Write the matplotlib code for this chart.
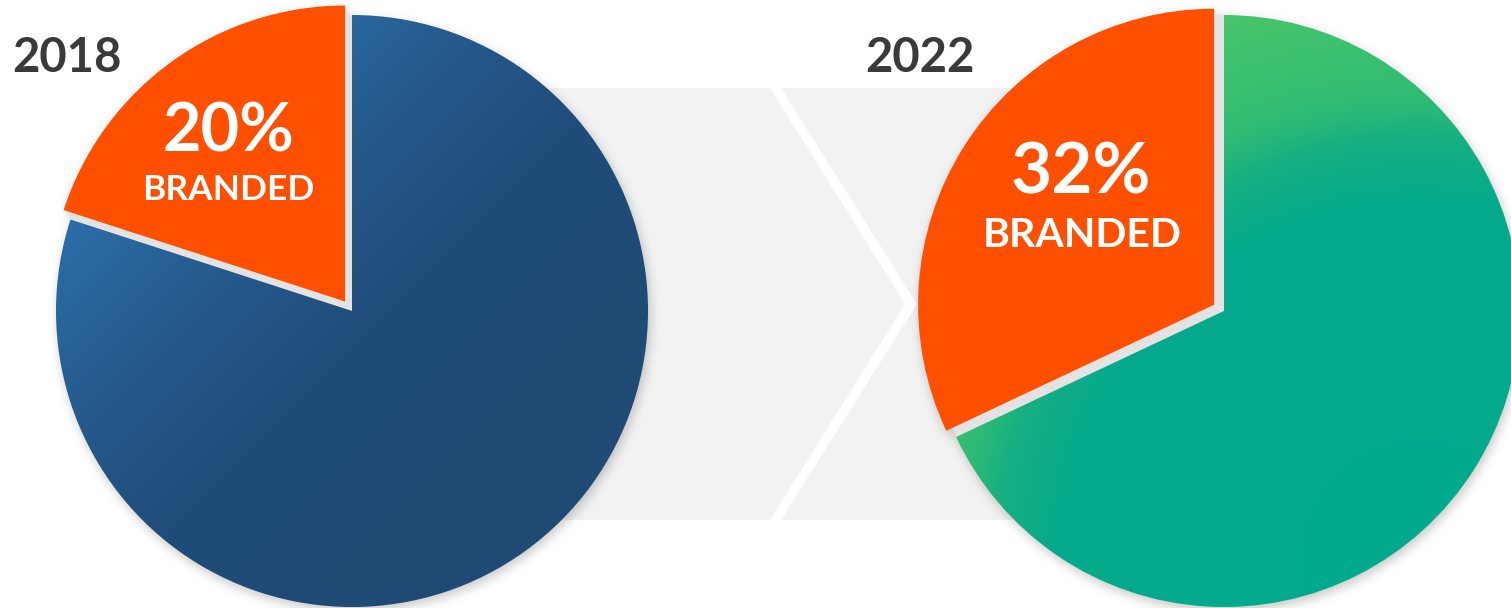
import numpy as np
import matplotlib
matplotlib.use('Agg')
import matplotlib.pyplot as plt
from matplotlib.patches import Polygon
from matplotlib.colors import to_rgb

# ---------------- data ----------------
years = ['2018', '2022']
branded_pct = [20, 32]
other_pct = [80, 68]
segment_label = 'BRANDED'

# ---------------- layout / style ----------------
W, H = 1511, 608
R = 296
centers_px = [(352, 311), (1224, 311)]
explode_px = 11.7
orange = '#FE5000'
gap_gray = '#E3E3E3'
chev_gray = '#F2F2F2'
year_color = '#3A3A3A'
FONT = 'Lato'

# blue: linear gradient on (x + y); green: radial gradient from lower right
blue_stops = [(300, '#2C6CA8'), (500, '#255A8B'), (700, '#204C79'), (1000, '#1E4A73')]
green_stops = [(0, '#02AA8E'), (360, '#05AA8B'), (420, '#16AF82'),
               (465, '#31BC74'), (590, '#4AC769'), (900, '#4AC769')]
grad_stops = [blue_stops, green_stops]
green_focus = (1420, 560)

year_pos = [(67.5, 72), (919.5, 72)]
pct_pos = [(228, 152), (1081, 193)]
lab_pos = [(228.5, 200), (1082, 247)]
year_size = 34
pct_size = [48, 51]
lab_size = [25.5, 29.5]


def Y(ypx):
    return H - ypx


fig = plt.figure(figsize=(W / 100, H / 100), dpi=100)
ax = fig.add_axes([0, 0, 1, 1])

# background chevrons
top, bot, mid = 88, 520, 304
poly1 = [(430, top), (770, top), (905, mid), (770, bot), (430, bot)]
poly2 = [(781, top), (1400, top), (1400, bot), (781, bot), (917, mid)]
for p in (poly1, poly2):
    ax.add_patch(Polygon([(x, Y(y)) for x, y in p], closed=True,
                         facecolor=chev_gray, edgecolor='none', zorder=0.5))

# soft drop shadow (decoration), computed on a padded canvas
PAD = 40
xs = np.arange(-PAD, W + PAD) + 0.5
ys = np.arange(-PAD, H + PAD) + 0.5
sdx, sdy = 2, 4
XX, YY = np.meshgrid(xs - sdx, ys - sdy)
mask = np.zeros(XX.shape)
for (cx, cy), b in zip(centers_px, branded_pct):
    mask = np.maximum(mask, ((XX - cx) ** 2 + (YY - cy) ** 2 <= R ** 2).astype(float))
    th = np.deg2rad(90 + 180 * b / 100)
    ox, oy = cx + explode_px * np.cos(th), cy - explode_px * np.sin(th)
    ang = np.degrees(np.arctan2(-(YY - oy), XX - ox)) % 360
    inw = ((XX - ox) ** 2 + (YY - oy) ** 2 <= R ** 2) & (ang >= 90) & (ang <= 90 + 360 * b / 100)
    mask = np.maximum(mask, inw.astype(float))


def blur(a, sigma):
    r = int(3 * sigma)
    k = np.exp(-0.5 * (np.arange(-r, r + 1) / sigma) ** 2)
    k /= k.sum()
    p = np.pad(a, ((0, 0), (r, r)), mode='edge')
    out = sum(k[i] * p[:, i:i + a.shape[1]] for i in range(2 * r + 1))
    p = np.pad(out, ((r, r), (0, 0)), mode='edge')
    out = sum(k[i] * p[i:i + a.shape[0], :] for i in range(2 * r + 1))
    return out


sh = blur(mask, 5.5)[PAD:PAD + H, PAD:PAD + W]
rgba = np.zeros((H, W, 4))
rgba[..., 3] = 0.22 * sh
ax.imshow(rgba, extent=(0, W, 0, H), origin='upper', zorder=1, interpolation='bilinear')

# pies
for i, ((cx, cy), b, o) in enumerate(zip(centers_px, branded_pct, other_pct)):
    c = (cx, Y(cy))
    # gap (shadow of branded slice)
    ax.pie([b, o], center=c, radius=R, startangle=90, counterclock=True,
           colors=[gap_gray, 'none'], wedgeprops=dict(linewidth=0, zorder=2))
    # main pie
    wedges, _ = ax.pie([b, o], center=c, radius=R, startangle=90, counterclock=True,
                       explode=[explode_px, 0], colors=[orange, 'none'],
                       wedgeprops=dict(linewidth=0, zorder=3))
    # gradient for the non-branded slice
    x0, x1 = cx - R, cx + R
    y0, y1 = cy - R, cy + R
    gx = np.arange(x0, x1) + 0.5
    gy = np.arange(y0, y1) + 0.5
    GX, GY = np.meshgrid(gx, gy)
    if i == 0:
        s = GX + GY
    else:
        s = np.hypot(GX - green_focus[0], GY - green_focus[1])
    stops = grad_stops[i]
    sv = [st[0] for st in stops]
    cols = np.array([to_rgb(st[1]) for st in stops])
    img = np.stack([np.interp(s, sv, cols[:, k]) for k in range(3)], axis=-1)
    im = ax.imshow(img, extent=(x0, x1, Y(y1), Y(y0)), origin='upper',
                   zorder=2.5, interpolation='bilinear')
    im.set_clip_path(wedges[1])

# texts
for i in range(2):
    ax.text(year_pos[i][0], Y(year_pos[i][1]), years[i], ha='center', va='baseline',
            fontsize=year_size, fontweight='bold', color=year_color, family=FONT, zorder=5)
    ax.text(pct_pos[i][0], Y(pct_pos[i][1]), f'{branded_pct[i]}%', ha='center', va='baseline',
            fontsize=pct_size[i], fontweight='bold', color='white', family=FONT, zorder=5)
    ax.text(lab_pos[i][0], Y(lab_pos[i][1]), segment_label, ha='center', va='baseline',
            fontsize=lab_size[i], fontweight='bold', color='white', family=FONT, zorder=5)

ax.set_xlim(0, W)
ax.set_ylim(0, H)
ax.set_aspect('equal')
ax.axis('off')
fig.savefig('out.png', dpi=100, facecolor='white')
